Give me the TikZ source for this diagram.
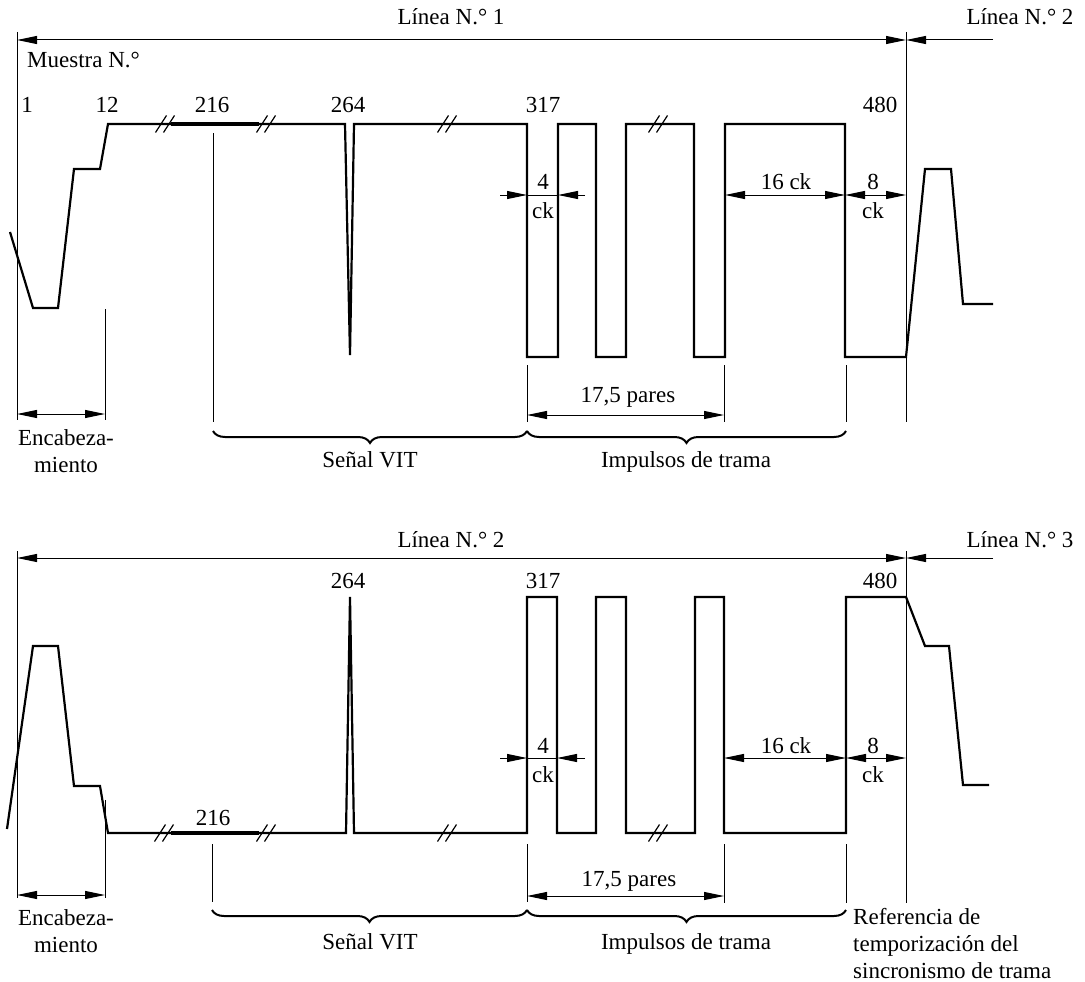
\documentclass[tikz,border=0pt]{standalone}
\usepackage{fontspec}
\setmainfont{Liberation Serif}
\usetikzlibrary{arrows.meta,decorations.pathreplacing}
\begin{document}
\begin{tikzpicture}[x=1pt,y=-1pt,
  sig/.style={line width=2.2pt, line join=miter},
  thk/.style={line width=3.8pt},
  thin/.style={line width=1pt},
  dimboth/.style={thin, {Triangle[length=20pt,width=8pt]}-{Triangle[length=20pt,width=8pt]}},
  dimend/.style={thin, -{Triangle[length=20pt,width=8pt]}},
  lbl/.style={font=\fontsize{23}{27}\selectfont, inner sep=0pt, anchor=base},
  mlbl/.style={font=\fontsize{23}{27}\selectfont, inner sep=0pt, align=center, anchor=base},
  brc/.style={decorate, decoration={brace, amplitude=12pt, mirror}, line width=2pt},
  brkpic/.pic={\draw[line width=1.2pt] (-9.5,8.5) -- (1.5,-8.5); \draw[line width=1.2pt] (-1.5,8.5) -- (9.5,-8.5);}
]
\useasboundingbox (0,0) rectangle (1085,982);

% ================= TOP PANEL =================
\draw[dimboth] (17,40) -- (906,40);
\draw[dimend] (993,40) -- (906,40);
\draw[thin] (17,32) -- (17,420);
\draw[thin] (906,32) -- (906,422);
\draw[thin] (105,309) -- (105,420);
\draw[thin] (213,133) -- (213,422);
\draw[thin] (527,365) -- (527,422);
\draw[thin] (724,365) -- (724,422);
\draw[thin] (846,365) -- (846,422);
\draw[sig] (10,232) -- (33,308) -- (58,308) -- (74,169) -- (100,169) -- (108,124)
  -- (345,124) -- (350,355) -- (354,124) -- (527,124) -- (527,357) -- (558,357)
  -- (558,124) -- (596,124) -- (596,357) -- (626,357) -- (626,124) -- (694,124)
  -- (694,357) -- (725,357) -- (725,124) -- (845,124) -- (845,357) -- (906,357)
  -- (925,169) -- (951,169) -- (963,304) -- (993,304);
\draw[thk] (171,124) -- (259,124);
\pic at (165,124) {brkpic};
\pic at (266,124) {brkpic};
\pic at (447,124) {brkpic};
\pic at (658,124) {brkpic};
\draw[dimboth] (17,414) -- (105,414);
\draw[dimboth] (527,415) -- (724,415);
\draw[dimend] (500,195) -- (527,195);
\draw[dimend] (585,195) -- (558,195);
\draw[thin] (527,195) -- (558,195);
\draw[dimboth] (725,195) -- (845,195);
\draw[dimboth] (845,195) -- (906,195);
\draw[brc] (213,431) -- (527,431);
\draw[brc] (527,431) -- (846,431);
\node[lbl] (tl1) at (451,25) {Línea N.° 1};
\node[lbl] (tl2) at (1020,25) {Línea N.° 2};
\node[lbl, anchor=base west] (tmn) at (27,68) {Muestra N.°};
\node[lbl] (t1) at (27,113) {1};
\node[lbl] (t12) at (107,113) {12};
\node[lbl] (t216) at (212,113) {216};
\node[lbl] (t264) at (348,113) {264};
\node[lbl] (t317) at (543,113) {317};
\node[lbl] (t480) at (880,113) {480};
\node[lbl] (t4) at (543,189) {4};
\node[lbl] (t4ck) at (543,218) {ck};
\node[lbl] (t16) at (786,189) {16 ck};
\node[lbl] (t8) at (873,189) {8};
\node[lbl] (t8ck) at (873,218) {ck};
\node[mlbl] (tenc) at (66,472) {Encabeza-\\miento};
\node[lbl] (tpar) at (628,402) {17,5 pares};
\node[lbl] (tvit) at (370,467) {Señal VIT};
\node[lbl] (timp) at (686,467) {Impulsos de trama};

% ================= BOTTOM PANEL =================
\draw[dimboth] (17,558) -- (906,558);
\draw[dimend] (993,558) -- (906,558);
\draw[thin] (17,551) -- (17,898);
\draw[thin] (906,551) -- (906,903);
\draw[thin] (105,800) -- (105,898);
\draw[thin] (212,844) -- (212,902);
\draw[thin] (527,844) -- (527,902);
\draw[thin] (724,844) -- (724,903);
\draw[thin] (846,844) -- (846,903);
\draw[sig] (7,829) -- (33,646) -- (58,646) -- (74,786) -- (100,786) -- (108,833)
  -- (346,833) -- (350,597) -- (354,833) -- (527,833) -- (527,597) -- (557,597)
  -- (557,833) -- (596,833) -- (596,597) -- (626,597) -- (626,833) -- (695,833)
  -- (695,597) -- (724,597) -- (724,833) -- (846,833) -- (846,597) -- (906,597)
  -- (925,646) -- (949,646) -- (963,785) -- (989,785);
\draw[thk] (171,833) -- (259,833);
\pic at (164,833) {brkpic};
\pic at (266,833) {brkpic};
\pic at (447,833) {brkpic};
\pic at (658,833) {brkpic};
\draw[dimboth] (17,895) -- (105,895);
\draw[dimboth] (527,896) -- (724,896);
\draw[dimend] (500,758) -- (527,758);
\draw[dimend] (585,758) -- (557,758);
\draw[thin] (527,758) -- (557,758);
\draw[dimboth] (724,758) -- (846,758);
\draw[dimboth] (846,758) -- (906,758);
\draw[brc] (212,910) -- (527,910);
\draw[brc] (527,910) -- (846,910);
\node[lbl] (bl2) at (451,547) {Línea N.° 2};
\node[lbl] (bl3) at (1020,547) {Línea N.° 3};
\node[lbl] (b264) at (348,588) {264};
\node[lbl] (b317) at (543,588) {317};
\node[lbl] (b480) at (880,588) {480};
\node[lbl] (b216) at (213,825) {216};
\node[lbl] (b4) at (543,753) {4};
\node[lbl] (b4ck) at (543,782) {ck};
\node[lbl] (b16) at (786,753) {16 ck};
\node[lbl] (b8) at (873,753) {8};
\node[lbl] (b8ck) at (873,782) {ck};
\node[mlbl] (benc) at (66,952) {Encabeza-\\miento};
\node[lbl] (bpar) at (629,886) {17,5 pares};
\node[lbl] (bvit) at (370,949) {Señal VIT};
\node[lbl] (bimp) at (686,949) {Impulsos de trama};
\node[mlbl, align=left, anchor=base west] (bref) at (853,978) {Referencia de\\temporización del\\sincronismo de trama};
\end{tikzpicture}
\end{document}
